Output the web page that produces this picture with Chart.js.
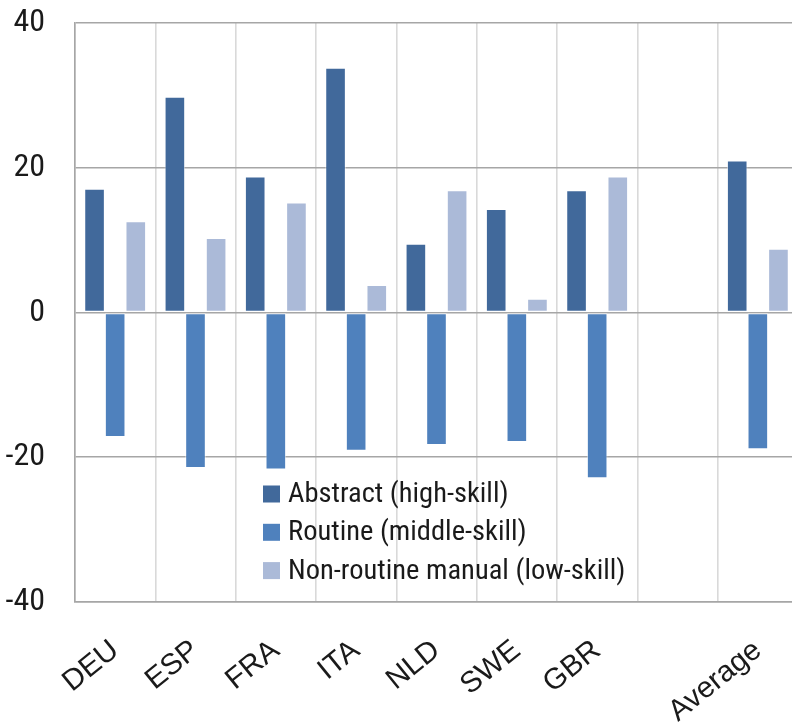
<!DOCTYPE html>
<html><head><meta charset="utf-8">
<script src="https://cdn.jsdelivr.net/npm/chart.js@4.4.1/dist/chart.umd.min.js"></script>
<style>
html,body{margin:0;padding:0;background:#fff;overflow:hidden;width:792px;height:724px}
#wrap{position:relative;width:800px;height:724px}
</style></head><body>
<div id="wrap"><canvas id="c" width="800" height="724"></canvas></div>
<script>
// ---- data ----
const categories = ['DEU', 'ESP', 'FRA', 'ITA', 'NLD', 'SWE', 'GBR', '', 'Average'];
const abstractHigh = [17.1, 29.8, 18.8, 33.8, 9.5, 14.3, 16.9, null, 21.0];
const routineMiddle = [-17.2, -21.5, -21.7, -19.1, -18.3, -17.9, -22.9, null, -18.9];
const nonRoutineLow = [12.6, 10.3, 15.2, 3.8, 16.9, 1.9, 18.8, null, 8.8];
const seriesNames = ['Abstract (high-skill)', 'Routine (middle-skill)', 'Non-routine manual (low-skill)'];
const yTicks = [40, 20, 0, -20, -40];

// ---- style ----
const NARROW = "'Roboto Condensed', 'Liberation Sans', Arial, sans-serif";
const REGULAR = "'Liberation Sans', Arial, sans-serif";
const colors = ['#41699b', '#4f81bd', '#abbad8'];
const TEXT = '#1a1a1a';

const legendPlugin = {
  id: 'inlineLegend',
  afterDraw(chart) {
    const ctx = chart.ctx;
    const x0 = 263, y0 = 494, step = 38.3, box = 17;
    ctx.save();
    ctx.font = `28.5px ${NARROW}`;
    ctx.textBaseline = 'middle';
    ctx.textAlign = 'left';
    chart.data.datasets.forEach((ds, i) => {
      const y = y0 + i * step;
      ctx.fillStyle = ds.backgroundColor;
      ctx.fillRect(x0, y - box / 2, box, box);
      ctx.fillStyle = TEXT;
      ctx.fillText(ds.label, x0 + 25, y + 1);
    });
    ctx.restore();
  }
};

const seriesValues = [abstractHigh, routineMiddle, nonRoutineLow];

new Chart(document.getElementById('c'), {
  type: 'bar',
  data: {
    labels: categories,
    datasets: seriesValues.map((vals, i) => ({
      label: seriesNames[i],
      data: vals,
      backgroundColor: colors[i],
      borderColor: 'rgba(255,255,255,0.55)',
      borderWidth: 1,
      borderSkipped: false,
      categoryPercentage: 0.77,
      barPercentage: 1.0
    }))
  },
  options: {
    responsive: false,
    animation: false,
    devicePixelRatio: 1,
    layout: { padding: { top: 0, right: 2, left: 0, bottom: 0 } },
    plugins: { legend: { display: false }, tooltip: { enabled: false } },
    scales: {
      x: {
        grid: { color: '#d9d9d9', lineWidth: 1.6, drawTicks: false, offset: true },
        border: { color: '#a6a6a6', width: 1.6 },
        ticks: {
          color: TEXT, font: { family: REGULAR, size: 29.5 },
          maxRotation: 39, minRotation: 39, padding: 31, autoSkip: false
        },
        afterFit(axis) { axis.height = 122; axis.paddingLeft = 0; axis.paddingRight = 0; }
      },
      y: {
        min: -40, max: 40,
        afterBuildTicks(axis) { axis.ticks = yTicks.map(v => ({ value: v })); },
        grid: { color: '#a6a6a6', lineWidth: 1.6, drawTicks: false },
        border: { color: '#a6a6a6', width: 1.6 },
        ticks: { color: TEXT, font: { family: NARROW, size: 32 }, padding: 30 },
        afterFit(axis) { axis.width = 75; axis.paddingTop = 23; axis.paddingBottom = 0; }
      }
    }
  },
  plugins: [legendPlugin]
});
</script>
</body></html>
